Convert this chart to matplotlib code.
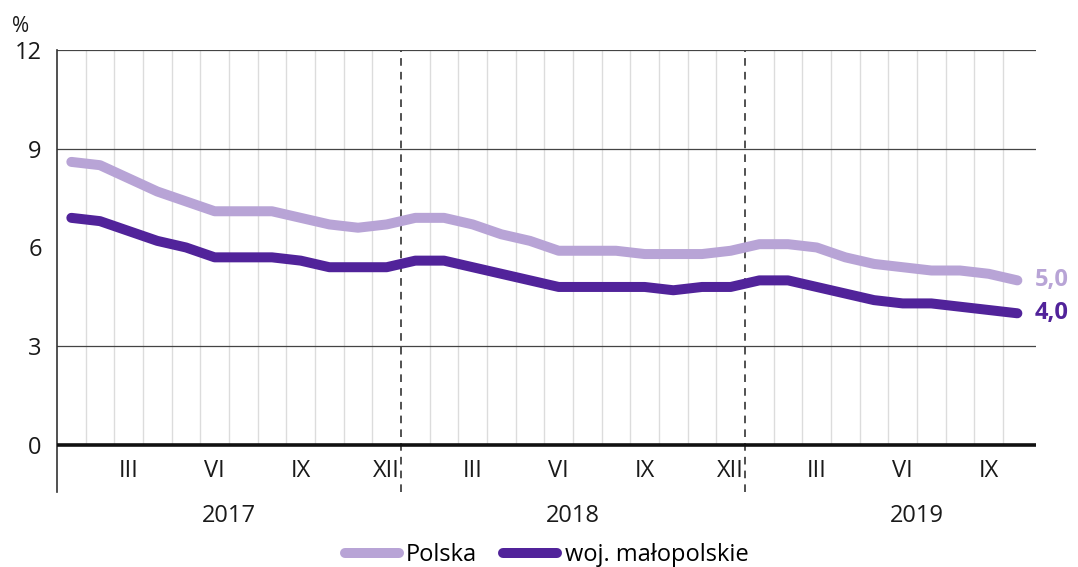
import matplotlib
matplotlib.use("Agg")
import matplotlib.pyplot as plt
import numpy as np

plt.rcParams['font.family'] = ['Open Sans', 'DejaVu Sans']

### data (registered unemployment rate, %)
years = ['2017', '2018', '2019']
month_labels = ['III', 'VI', 'IX', 'XII']
polska = [8.6, 8.5, 8.1, 7.7, 7.4, 7.1, 7.1, 7.1, 6.9, 6.7, 6.6, 6.7,
          6.9, 6.9, 6.7, 6.4, 6.2, 5.9, 5.9, 5.9, 5.8, 5.8, 5.8, 5.9,
          6.1, 6.1, 6.0, 5.7, 5.5, 5.4, 5.3, 5.3, 5.2, 5.0]
malopolskie = [6.9, 6.8, 6.5, 6.2, 6.0, 5.7, 5.7, 5.7, 5.6, 5.4, 5.4, 5.4,
               5.6, 5.6, 5.4, 5.2, 5.0, 4.8, 4.8, 4.8, 4.8, 4.7, 4.8, 4.8,
               5.0, 5.0, 4.8, 4.6, 4.4, 4.3, 4.3, 4.2, 4.1, 4.0]
series_names = ['Polska', 'woj. małopolskie']
yticks = [0, 3, 6, 9, 12]

c_light = '#b8a4d6'
c_dark = '#51239a'
c_text = '#1a1a1a'

W, H = 1078, 567
fig = plt.figure(figsize=(W / 100, H / 100), dpi=100)
ax = fig.add_axes([57 / W, 1 - 492 / H, (1036 - 57) / W, (492 - 50) / H])

n = len(polska)
x = np.arange(n)
ax.set_xlim(-0.5, n - 0.35)
ax.set_ylim(-1.43, 12)

# month grid
for k in range(n - 1):
    b = k + 0.5
    if (k + 1) % 12 == 0:
        ax.vlines(b, -1.43, 12, color='#222222', lw=1.1, linestyles=(0, (5, 4)), zorder=2)
    else:
        ax.vlines(b, 0, 12, color='#dcdcdc', lw=1.0, zorder=1)

# horizontal lines (no line at 6 in the original)
ax.axhline(12, color='#444444', lw=1.6, zorder=2)
for v in (9, 3):
    ax.axhline(v, color='#444444', lw=0.9, zorder=2)
ax.axhline(0, color='#111111', lw=2.6, zorder=3)

ax.plot(x, polska, color=c_light, lw=7.2, solid_capstyle='round',
        solid_joinstyle='round', zorder=4, label=series_names[0])
ax.plot(x, malopolskie, color=c_dark, lw=7.2, solid_capstyle='round',
        solid_joinstyle='round', zorder=5, label=series_names[1])

ax.text(n - 0.4, polska[-1], '5,0', color=c_light, fontsize=17, fontweight='bold',
        va='center', ha='left')
ax.text(n - 0.4, malopolskie[-1], '4,0', color=c_dark, fontsize=17, fontweight='bold',
        va='center', ha='left')

# axes styling
for s in ('top', 'right', 'bottom'):
    ax.spines[s].set_visible(False)
ax.spines['left'].set_color('#333333')
ax.spines['left'].set_linewidth(1.2)
ax.set_xticks([])
ax.set_yticks(yticks)
ax.set_yticklabels([str(v) for v in yticks], fontsize=17, color=c_text)
ax.tick_params(axis='y', length=0, pad=11)
fig.text(21 / W, 1 - 26 / H, '%', fontsize=15, color=c_text, ha='center', va='center')

# month and year labels
for yi, yr in enumerate(years):
    for mi, lab in enumerate(month_labels):
        pos = yi * 12 + mi * 3 + 2
        if pos < n:
            ax.text(pos, -0.8, lab, ha='center', va='center', fontsize=17, color=c_text)
    ax.text(yi * 12 + 5.5, -2.15, yr, ha='center', va='center', fontsize=17,
            color=c_text, clip_on=False)

ax.legend(loc='center', bbox_to_anchor=(0.5, -0.142), ncol=2, frameon=False,
          fontsize=17, handlelength=2.3, handletextpad=0.3, columnspacing=1.1,
          borderpad=0)

fig.savefig('out.png', dpi=100)
